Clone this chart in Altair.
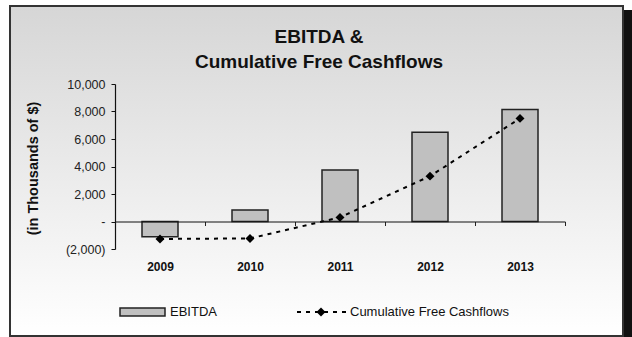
import altair as alt
import pandas as pd

years = ["2009", "2010", "2011", "2012", "2013"]
ebitda = [-1100, 830, 3750, 6500, 8150]
cum_fcf = [-1270, -1230, 300, 3300, 7500]
title_lines = ["EBITDA &", "Cumulative Free Cashflows"]
y_title = "(in Thousands of $)"
legend_labels = ["EBITDA", "Cumulative Free Cashflows"]
y_ticks = [-2000, 0, 2000, 4000, 6000, 8000, 10000]

FONT = "Liberation Sans, Arial, sans-serif"

df = pd.DataFrame({"year": years, "ebitda": ebitda, "cum": cum_fcf})
one = pd.DataFrame({"k": [0]})

xscale = alt.Scale(type="band", paddingInner=0, paddingOuter=0)
yscale = alt.Scale(domain=[-2000, 10000], nice=False, zero=False)

label_expr = (
    "datum.value == 0 ? '-\u00a0' : (datum.value < 0 ? '(' + format(-datum.value, ',') + ')' "
    ": format(datum.value, ',') + '\u00a0')"
)

x_axis = alt.Axis(
    title=None, offset=-27.5, tickBand="extent", tickSize=4, tickColor="#222",
    domainColor="#111", domainWidth=1.2, labelAngle=0, labelFont=FONT,
    labelFontSize=12, labelFontWeight="bold", labelColor="#111",
    labelPadding=36, zindex=1, grid=False,
)
y_axis = alt.Axis(
    values=y_ticks, labelExpr=label_expr, title=y_title, grid=False,
    labelOverlap=False, tickCount=7,
    tickSize=4, tickColor="#111", domainColor="#111", domainWidth=1.2,
    labelFont=FONT, labelFontSize=12.5, labelColor="#222", labelPadding=6,
    titleFont=FONT, titleFontSize=14.5, titleFontWeight="bold", titleColor="#111",
    titleX=-82, titleY=84, titleAngle=270, titleAlign="center",
    titleBaseline="middle", zindex=1,
)


def xe():
    return alt.X("year:N", scale=xscale, sort=years, axis=x_axis)


def ye(field):
    return alt.Y(field, scale=yscale, axis=y_axis)


gradient = {
    "gradient": "linear", "x1": 0, "y1": 0, "x2": 0, "y2": 1,
    "stops": [{"offset": 0, "color": "#d6d6d6"}, {"offset": 1, "color": "#ffffff"}],
}

bg = alt.Chart(one).mark_rect(fill=gradient, stroke="#333", strokeWidth=2).encode(
    x=alt.value(-105), x2=alt.value(508), y=alt.value(-78), y2=alt.value(252)
)
shadow = alt.Chart(one).mark_rect(fill="#111").encode(
    x=alt.value(509), x2=alt.value(520), y=alt.value(-74), y2=alt.value(256)
)

bars = alt.Chart(df).mark_bar(
    fill="#c0c0c0", stroke="#222", strokeWidth=1.5, width=alt.RelativeBandSize(0.4)
).encode(x=xe(), y=ye("ebitda:Q"))

line = alt.Chart(df).mark_line(color="black", strokeDash=[4, 5], strokeWidth=2).encode(
    x=xe(), y=ye("cum:Q")
)
points = alt.Chart(df).mark_point(shape="diamond", filled=True, size=80, color="black", opacity=1).encode(
    x=xe(), y=ye("cum:Q")
)

titles = [
    alt.Chart(one).mark_text(
        font=FONT, fontSize=19, fontWeight="bold", color="#111", align="center", baseline="middle"
    ).encode(x=alt.value(204), y=alt.value(yy), text=alt.value(t))
    for t, yy in zip(title_lines, [-47, -22])
]

leg_rect = alt.Chart(one).mark_rect(fill="#c0c0c0", stroke="#222", strokeWidth=1.5).encode(
    x=alt.value(5), x2=alt.value(50), y=alt.value(224), y2=alt.value(232)
)
leg_rule = alt.Chart(one).mark_rule(color="black", strokeDash=[4, 5], strokeWidth=2).encode(
    x=alt.value(182), x2=alt.value(233), y=alt.value(228)
)
leg_pt = alt.Chart(one).mark_point(shape="diamond", filled=True, size=80, color="black", opacity=1).encode(
    x=alt.value(206), y=alt.value(228)
)
leg_texts = [
    alt.Chart(one).mark_text(
        font=FONT, fontSize=13, color="#111", align="left", baseline="middle"
    ).encode(x=alt.value(xx), y=alt.value(228), text=alt.value(t))
    for t, xx in zip(legend_labels, [55, 235])
]

chart = alt.layer(
    bg, shadow, bars, line, points, *titles, leg_rect, leg_rule, leg_pt, *leg_texts
).properties(
    width=450, height=165,
    padding={"left": 115, "top": 84, "right": 67, "bottom": 88},
    autosize="none",
).configure_view(strokeWidth=0).configure(background="white")

chart.save("out.html", embed_options={"renderer": "svg", "actions": False})
